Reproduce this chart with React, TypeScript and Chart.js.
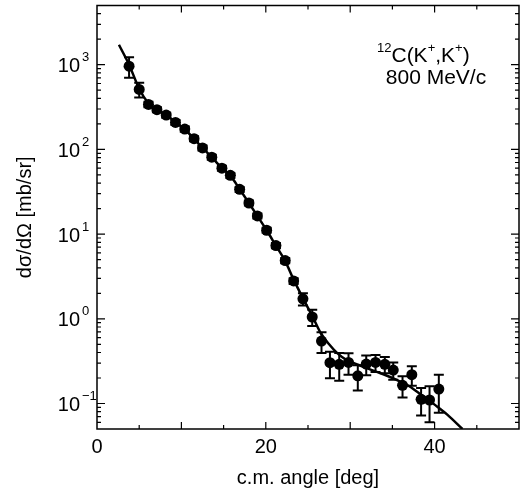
import React, { useEffect, useRef } from 'react';
import { Chart, registerables } from 'chart.js';

Chart.register(...registerables);

// Measured data points: c.m. angle [deg], cross-section [mb/sr], error [mb/sr]
const angles = [3.8, 5.0, 6.1, 7.1, 8.2, 9.3, 10.4, 11.5, 12.5, 13.6, 14.8, 15.8, 16.9, 18.0, 19.0, 20.1, 21.2, 22.3, 23.3, 24.4, 25.5, 26.6, 27.6, 28.7, 29.8, 30.9, 31.9, 33.0, 34.1, 35.1, 36.2, 37.3, 38.4, 39.4, 40.5];
const crossSections = [962, 511, 340, 294, 254, 208, 174, 134, 104, 81, 60, 49.4, 33.8, 23.3, 16.4, 11.1, 7.33, 4.87, 2.8, 1.72, 1.05, 0.546, 0.303, 0.29, 0.305, 0.212, 0.292, 0.305, 0.29, 0.248, 0.164, 0.219, 0.112, 0.11, 0.148];
const errors = [260, 100, 25, 20, 17, 14, 12, 9, 7, 5.5, 4, 3.3, 2.3, 1.6, 1.1, 0.75, 0.5, 0.35, 0.22, 0.28, 0.23, 0.15, 0.104, 0.104, 0.087, 0.07, 0.077, 0.07, 0.063, 0.057, 0.046, 0.057, 0.04, 0.05, 0.07];

// Theoretical curve
const fitAngles = [2.6, 3.8, 5.0, 6.0, 7.0, 8.2, 9.3, 10.4, 11.5, 12.5, 13.6, 14.8, 15.8, 16.9, 18.0, 19.0, 20.1, 21.2, 22.3, 23.3, 24.4, 25.5, 26.5, 27.5, 28.5, 29.5, 31.0, 32.5, 34.0, 35.5, 37.0, 38.5, 40.0, 41.5, 43.3];
const fitValues = [1718, 1000, 520, 360, 300, 255, 210, 172, 134, 104, 81, 60, 49, 34, 23.3, 16.4, 11.1, 7.3, 4.8, 2.9, 1.75, 1.08, 0.68, 0.5, 0.39, 0.33, 0.285, 0.25, 0.22, 0.19, 0.16, 0.125, 0.097, 0.074, 0.05];

const xTickLabels = [0, 20, 40];
const yDecades = [-1, 0, 1, 2, 3];
const xTitle = 'c.m. angle [deg]';
const yTitle = 'dσ/dΩ [mb/sr]';
const annotationLine2 = '800 MeV/c';

const FONT = '"Liberation Sans", Arial, Helvetica, sans-serif';

const decorPlugin = {
  id: 'decor',
  beforeDatasetsDraw(chart: any) {
    const ctx = chart.ctx;
    const xs = chart.scales.x;
    const ys = chart.scales.y;
    ctx.save();
    ctx.strokeStyle = '#000';
    ctx.lineWidth = 2;
    for (let i = 0; i < angles.length; i++) {
      const px = xs.getPixelForValue(angles[i]);
      const hi = ys.getPixelForValue(crossSections[i] + errors[i]);
      const lo = ys.getPixelForValue(Math.max(crossSections[i] - errors[i], 1e-4));
      ctx.beginPath();
      ctx.moveTo(px, hi);
      ctx.lineTo(px, lo);
      ctx.moveTo(px - 5, hi);
      ctx.lineTo(px + 5, hi);
      ctx.moveTo(px - 5, lo);
      ctx.lineTo(px + 5, lo);
      ctx.stroke();
    }
    ctx.restore();
  },
  afterDraw(chart: any) {
    const ctx = chart.ctx;
    const { left, right, top, bottom } = chart.chartArea;
    const xs = chart.scales.x;
    const ys = chart.scales.y;
    ctx.save();
    ctx.strokeStyle = '#000';
    ctx.fillStyle = '#000';
    // frame
    ctx.lineWidth = 1.5;
    ctx.strokeRect(left, top, right - left, bottom - top);
    // x ticks
    ctx.lineWidth = 1.2;
    ctx.beginPath();
    for (let v = 5; v < 50; v += 5) {
      const px = xs.getPixelForValue(v);
      const len = v % 10 === 0 ? 7 : 4;
      ctx.moveTo(px, bottom);
      ctx.lineTo(px, bottom - len);
      ctx.moveTo(px, top);
      ctx.lineTo(px, top + len);
    }
    // y ticks
    for (let d = -2; d <= 4; d++) {
      for (let m = 1; m <= 9; m++) {
        const v = m * Math.pow(10, d);
        if (v < ys.min * 0.999 || v > ys.max * 1.001) continue;
        const py = ys.getPixelForValue(v);
        if (py <= top + 0.5 || py >= bottom - 0.5) continue;
        const len = m === 1 ? 8 : 4;
        ctx.moveTo(left, py);
        ctx.lineTo(left + len, py);
        ctx.moveTo(right, py);
        ctx.lineTo(right - len, py);
      }
    }
    ctx.stroke();

    // x tick labels
    ctx.font = `20px ${FONT}`;
    ctx.textAlign = 'center';
    ctx.textBaseline = 'middle';
    for (const v of xTickLabels) {
      ctx.fillText(String(v), xs.getPixelForValue(v), bottom + 18);
    }
    // x title
    ctx.fillText(xTitle, (left + right) / 2, bottom + 49);

    // y tick labels
    for (const d of yDecades) {
      const py = ys.getPixelForValue(Math.pow(10, d));
      ctx.font = `20px ${FONT}`;
      ctx.textAlign = 'right';
      ctx.textBaseline = 'middle';
      ctx.fillText('10', left - 17, py + 2);
      ctx.font = `13px ${FONT}`;
      ctx.textAlign = 'left';
      ctx.fillText(d < 0 ? '\u2212' + Math.abs(d) : String(d), left - 15, py - 7);
    }
    // y title
    ctx.save();
    ctx.translate(25, (top + bottom) / 2);
    ctx.rotate(-Math.PI / 2);
    ctx.font = `20px ${FONT}`;
    ctx.textAlign = 'center';
    ctx.textBaseline = 'middle';
    ctx.fillText(yTitle, 0, 0);
    ctx.restore();

    // annotation
    ctx.textAlign = 'left';
    ctx.textBaseline = 'alphabetic';
    const parts: [string, boolean][] = [['12', true], ['C(K', false], ['+', true], [',K', false], ['+', true], [')', false]];
    let x = right - 142;
    const base = top + 56;
    for (const [t, sup] of parts) {
      ctx.font = sup ? `13px ${FONT}` : `21px ${FONT}`;
      ctx.fillText(t, x, sup ? base - 10 : base);
      x += ctx.measureText(t).width;
    }
    ctx.font = `21px ${FONT}`;
    ctx.textAlign = 'center';
    ctx.fillText(annotationLine2, right - 83, top + 78);
    ctx.restore();
  },
};

export default function App() {
  const ref = useRef<HTMLCanvasElement | null>(null);
  useEffect(() => {
    if (!ref.current) return;
    const chart = new Chart(ref.current, {
      type: 'scatter',
      data: {
        datasets: [
          {
            label: 'data',
            data: angles.map((a, i) => ({ x: a, y: crossSections[i] })),
            pointRadius: 5.5,
            pointBackgroundColor: '#000',
            pointBorderWidth: 0,
            showLine: false,
          },
          {
            label: 'fit',
            data: fitAngles.map((a, i) => ({ x: a, y: fitValues[i] })),
            showLine: true,
            pointRadius: 0,
            borderColor: '#000',
            borderWidth: 2.5,
            cubicInterpolationMode: 'monotone',
          },
        ],
      },
      options: {
        responsive: false,
        animation: false,
        devicePixelRatio: 1,
        layout: { padding: { left: 0, right: 11, top: 5, bottom: 0 } },
        plugins: { legend: { display: false }, tooltip: { enabled: false } },
        scales: {
          x: {
            type: 'linear',
            min: 0,
            max: 50,
            grid: { display: false },
            border: { display: false },
            ticks: { display: false },
            afterFit: (s: any) => { s.height = 62; },
          },
          y: {
            type: 'logarithmic',
            min: 0.05,
            max: 5000,
            grid: { display: false },
            border: { display: false },
            ticks: { display: false },
            afterFit: (s: any) => { s.width = 97; },
          },
        },
      } as any,
      plugins: [decorPlugin],
    });
    return () => chart.destroy();
  }, []);
  return (
    <div style={{ position: 'absolute', left: 0, top: 0, width: 530, height: 491, background: '#fff' }}>
      <canvas ref={ref} width={530} height={491} />
    </div>
  );
}
